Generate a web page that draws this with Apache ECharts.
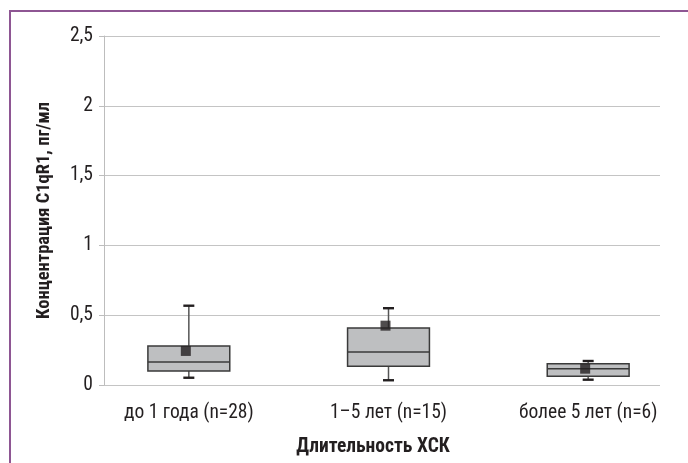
<!DOCTYPE html>
<html>
<head>
<meta charset="utf-8">
<script src="https://cdn.jsdelivr.net/npm/echarts@6/dist/echarts.min.js"></script>
<style>
html,body{margin:0;padding:0;background:#fff;}
#chart{width:688px;height:463px;}
</style>
</head>
<body>
<div id="chart"></div>
<script>
const categories = ['до 1 года (n=28)', '1–5 лет (n=15)', 'более 5 лет (n=6)'];
const minVals = [0.052, 0.034, 0.038];
const q1Vals = [0.100, 0.134, 0.062];
const medianVals = [0.165, 0.236, 0.117];
const q3Vals = [0.279, 0.408, 0.153];
const maxVals = [0.568, 0.550, 0.172];
const meanVals = [0.244, 0.425, 0.117];
const yAxisName = 'Концентрация C1qR1, пг/мл';
const xAxisName = 'Длительность ХСК';

const FONT = '"Liberation Sans Narrow", "Roboto Condensed", "Liberation Sans", Arial, sans-serif';
const TXT = '#231f20';
const FS = 19.5;

const boxData = categories.map((c, i) => [i, minVals[i], q1Vals[i], medianVals[i], q3Vals[i], maxVals[i]]);
const meanData = categories.map((c, i) => [i, meanVals[i]]);

const chart = echarts.init(document.getElementById('chart'));
chart.setOption({
  animation: false,
  backgroundColor: '#fff',
  grid: [
    {left: 104, right: 28, top: 36, bottom: 78},
    {left: 89, width: 600, top: 36, bottom: 78}
  ],
  xAxis: [
    {gridIndex: 0, type: 'value', min: 0, max: 1, show: false},
    {gridIndex: 1, type: 'category', data: categories,
      axisLine: {show: false}, axisTick: {show: false}, splitLine: {show: false},
      axisLabel: {interval: 0, margin: 18, fontFamily: FONT, fontSize: FS, color: TXT}}
  ],
  yAxis: [
    {gridIndex: 0, type: 'value', min: 0, max: 2.5, interval: 0.5,
      name: yAxisName, nameLocation: 'middle', nameGap: 50,
      nameTextStyle: {fontFamily: FONT, fontSize: 18.5, fontWeight: 'bold', color: TXT, padding: [0, 0, 0, 0]},
      axisLine: {show: true, lineStyle: {color: '#bdbdbd', width: 1}},
      axisTick: {show: true, length: 5, lineStyle: {color: '#bdbdbd'}},
      splitLine: {show: true, lineStyle: {color: '#c4c4c4', width: 1}},
      axisLabel: {margin: 11, fontFamily: FONT, fontSize: FS, color: TXT,
        formatter: v => String(v).replace('.', ',')}},
    {gridIndex: 1, type: 'value', min: 0, max: 2.5, show: false}
  ],
  series: [
    {
      type: 'custom', xAxisIndex: 1, yAxisIndex: 1, data: boxData,
      encode: {x: 0, y: [1, 2, 3, 4, 5]},
      renderItem: function (params, api) {
        const i = api.value(0);
        const pMin = api.coord([i, api.value(1)]);
        const pQ1 = api.coord([i, api.value(2)]);
        const pMed = api.coord([i, api.value(3)]);
        const pQ3 = api.coord([i, api.value(4)]);
        const pMax = api.coord([i, api.value(5)]);
        const bw = api.size([1, 0])[0] * 0.41;
        const cx = pMed[0];
        const capW = 11;
        return {
          type: 'group',
          children: [
            {type: 'line', shape: {x1: cx, y1: pMax[1], x2: cx, y2: pQ3[1]}, style: {stroke: '#555', lineWidth: 1.5}},
            {type: 'line', shape: {x1: cx, y1: pQ1[1], x2: cx, y2: pMin[1]}, style: {stroke: '#555', lineWidth: 1.5}},
            {type: 'line', shape: {x1: cx - capW / 2, y1: pMax[1], x2: cx + capW / 2, y2: pMax[1]}, style: {stroke: '#231f20', lineWidth: 2.4}},
            {type: 'line', shape: {x1: cx - capW / 2, y1: pMin[1], x2: cx + capW / 2, y2: pMin[1]}, style: {stroke: '#231f20', lineWidth: 2.4}},
            {type: 'rect', shape: {x: cx - bw / 2, y: pQ3[1], width: bw, height: pQ1[1] - pQ3[1]},
              style: {fill: '#bebfc1', stroke: '#3a3a3a', lineWidth: 1.5}},
            {type: 'line', shape: {x1: cx - bw / 2, y1: pMed[1], x2: cx + bw / 2, y2: pMed[1]}, style: {stroke: '#3a3a3a', lineWidth: 1.5}}
          ]
        };
      }
    },
    {
      type: 'scatter', xAxisIndex: 1, yAxisIndex: 1, data: meanData,
      symbol: 'rect', symbolSize: 10, symbolOffset: [-3, 0],
      itemStyle: {color: '#231f20'}
    }
  ],
  graphic: [
    {type: 'polyline', shape: {points: [[10, 463], [10, 11], [688, 11]]},
      style: {stroke: '#8e5693', lineWidth: 2, fill: null}, silent: true},
    {type: 'text', x: 373, y: 447,
      style: {text: xAxisName, textAlign: 'center', textVerticalAlign: 'middle',
        font: 'bold 19.5px ' + FONT, fill: TXT}}
  ]
});
</script>
</body>
</html>
